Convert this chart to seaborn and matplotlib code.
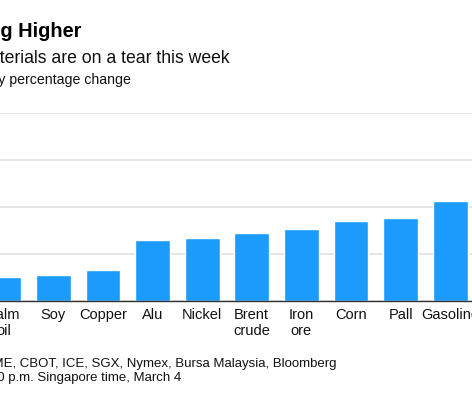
import matplotlib
matplotlib.use("Agg")
import matplotlib.pyplot as plt
import seaborn as sns
import pandas as pd

# weekly % change
commodities = ["Palm\noil", "Soy", "Copper", "Alu", "Nickel",
               "Brent\ncrude", "Iron\nore", "Corn", "Pall", "Gasoline"]
weekly_change = [1.03, 1.09, 1.30, 2.60, 2.69, 2.90, 3.07, 3.41, 3.52, 4.25]
y_ticks = [0, 2, 4, 6, 8]

df = pd.DataFrame({"commodity": commodities, "change": weekly_change})

sns.set_style("white")
plt.rcParams["font.family"] = ["Liberation Sans", "DejaVu Sans"]

W, H = 472, 394
fig = plt.figure(figsize=(W / 100, H / 100), dpi=100)

# axes spans the full width; left part of chart is cropped like the reference
ax = fig.add_axes([0, (H - 301) / H, 1, (301 - 112.5) / H])
sns.barplot(x="commodity", y="change", data=df, color="#1b9bfb",
            saturation=1, width=0.7, ax=ax, zorder=3)

ax.set_xlim(-0.075, 9.44)
ax.set_ylim(0, 8)
ax.set_yticks(y_ticks)
ax.set_yticklabels([])
ax.tick_params(axis="y", length=0)
ax.tick_params(axis="x", length=0, pad=5, labelsize=10.5, labelcolor="#111111")
ax.grid(axis="y", color="#e0e0e0", linewidth=1.2, zorder=0)
ax.set_axisbelow(True)
for s in ["top", "right", "left"]:
    ax.spines[s].set_visible(False)
ax.spines["bottom"].set_color("#333333")
ax.spines["bottom"].set_linewidth(1)
ax.spines["bottom"].set_zorder(5)
ax.set_xlabel("")
ax.set_ylabel("")


def px(x, y):
    return x / W, 1 - y / H


fig.text(*px(81, 37), "Commodities Surging Higher", ha="right", va="baseline",
         fontsize=14.4, fontweight="bold", color="#000000")
fig.text(*px(230, 62.7), "Raw materials are on a tear this week", ha="right",
         va="baseline", fontsize=12.7, color="#111111")
fig.text(*px(130.5, 84), "Weekly percentage change", ha="right", va="baseline",
         fontsize=10.2, color="#111111")
fig.text(*px(336.7, 367.3),
         "Source: LME, CBOT, ICE, SGX, Nymex, Bursa Malaysia, Bloomberg",
         ha="right", va="baseline", fontsize=9.5, color="#111111")
fig.text(*px(181.7, 380.7), "Note: Data as of 4:30 p.m. Singapore time, March 4",
         ha="right", va="baseline", fontsize=9.5, color="#111111")

fig.savefig("out.png", dpi=100)
